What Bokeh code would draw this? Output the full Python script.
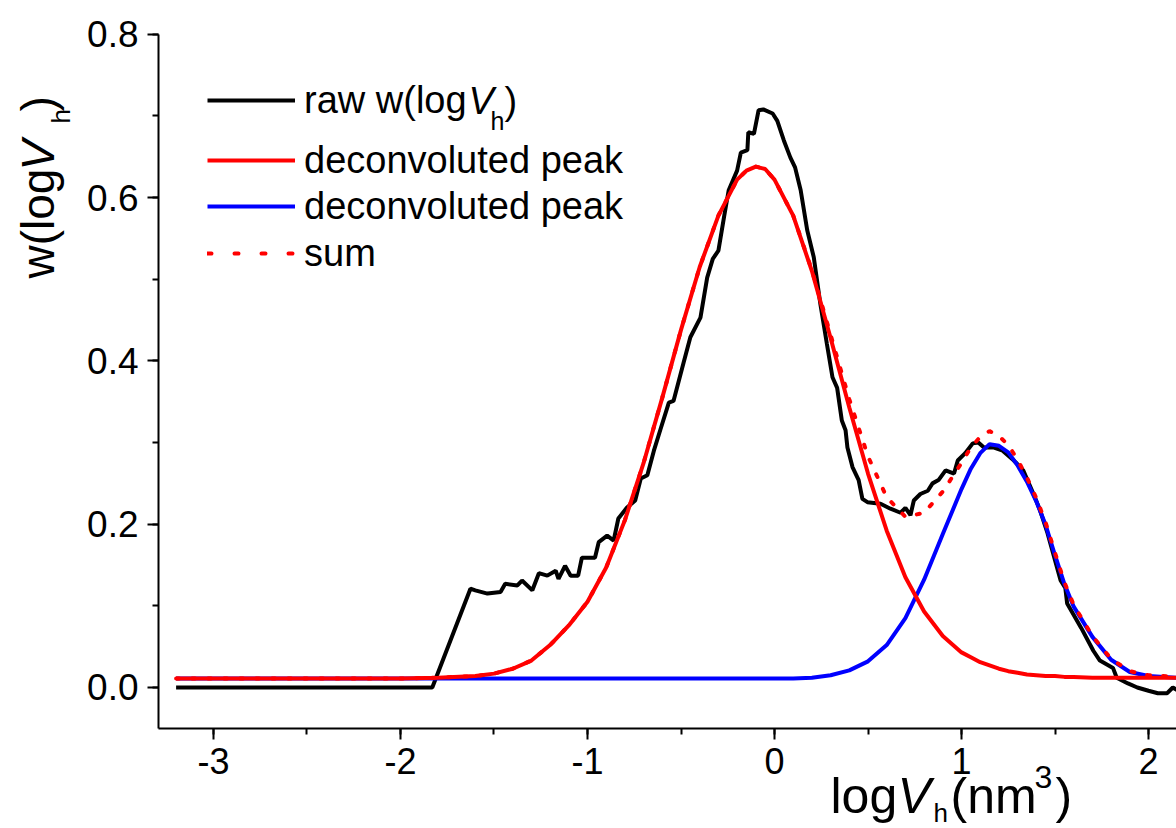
import math
from bokeh.plotting import figure
from bokeh.models import (Range1d, SingleIntervalTicker, Label, Legend, LegendItem,
                          PrintfTickFormatter)
from bokeh.core.properties import value
from bokeh.embed import file_html
from bokeh.resources import INLINE

# ---------------- data ----------------
raw_x = [-3.2, -1.83, -1.626, -1.6, -1.535, -1.465, -1.44, -1.375, -1.35, -1.295,
         -1.26, -1.215, -1.17, -1.155, -1.12, -1.09, -1.05, -1.03, -0.96, -0.94,
         -0.895, -0.86, -0.835, -0.79, -0.745, -0.715, -0.68, -0.645, -0.61, -0.565,
         -0.54, -0.487, -0.45, -0.396, -0.36, -0.33, -0.3, -0.27, -0.245, -0.2,
         -0.18, -0.145, -0.14, -0.11, -0.085, -0.06, -0.01, 0.015, 0.05, 0.085,
         0.11, 0.14, 0.175, 0.21, 0.245, 0.28, 0.31, 0.335, 0.36, 0.38,
         0.39, 0.417, 0.45, 0.47, 0.497, 0.567, 0.62, 0.674, 0.7, 0.727,
         0.745, 0.78, 0.82, 0.845, 0.877, 0.915, 0.96, 0.98, 1.02, 1.06,
         1.09, 1.12, 1.17, 1.22, 1.28, 1.33, 1.385, 1.42, 1.46, 1.49,
         1.53, 1.555, 1.565, 1.64, 1.705, 1.74, 1.81, 1.83, 1.89, 1.94,
         2.0, 2.05, 2.1, 2.13, 2.2]
raw_w = [0.0, 0.0, 0.121, 0.119, 0.115, 0.117, 0.127, 0.125, 0.131, 0.119,
         0.140, 0.137, 0.143, 0.133, 0.149, 0.137, 0.137, 0.159, 0.159, 0.178,
         0.186, 0.180, 0.207, 0.220, 0.229, 0.256, 0.260, 0.290, 0.316, 0.349,
         0.351, 0.397, 0.429, 0.453, 0.502, 0.525, 0.535, 0.576, 0.609, 0.633,
         0.655, 0.658, 0.680, 0.678, 0.707, 0.708, 0.703, 0.694, 0.670, 0.649,
         0.637, 0.609, 0.560, 0.527, 0.470, 0.421, 0.380, 0.367, 0.327, 0.315,
         0.294, 0.270, 0.254, 0.231, 0.227, 0.225, 0.219, 0.214, 0.220, 0.211,
         0.229, 0.237, 0.241, 0.250, 0.254, 0.266, 0.262, 0.278, 0.287, 0.299,
         0.300, 0.294, 0.294, 0.290, 0.278, 0.266, 0.237, 0.217, 0.189, 0.164,
         0.131, 0.122, 0.103, 0.073, 0.045, 0.033, 0.024, 0.012, 0.005, 0.000,
         -0.004, -0.007, -0.007, 0.000, -0.010]

fit_x = [-3.2, -2.0, -1.8, -1.6, -1.5, -1.4, -1.3, -1.2, -1.1, -1.0,
         -0.9, -0.8, -0.7, -0.6, -0.5, -0.4, -0.3, -0.2, -0.15, -0.1,
         -0.05, 0.0, 0.1, 0.2, 0.3, 0.4, 0.5, 0.6, 0.7, 0.8,
         0.9, 1.0, 1.05, 1.1, 1.15, 1.2, 1.25, 1.3, 1.35, 1.4,
         1.45, 1.5, 1.55, 1.6, 1.7, 1.8, 1.9, 2.0, 2.15]
red_peak = [0.011, 0.011, 0.012, 0.014, 0.017, 0.023, 0.033, 0.052, 0.076, 0.105,
            0.147, 0.205, 0.275, 0.355, 0.438, 0.515, 0.578, 0.622, 0.633, 0.638,
            0.635, 0.622, 0.578, 0.510, 0.428, 0.343, 0.262, 0.192, 0.135, 0.093,
            0.063, 0.043, 0.037, 0.031, 0.027, 0.023, 0.020, 0.018, 0.016, 0.015,
            0.014, 0.014, 0.013, 0.013, 0.012, 0.012, 0.012, 0.012, 0.012]
blue_peak = [0.011, 0.011, 0.011, 0.011, 0.011, 0.011, 0.011, 0.011, 0.011, 0.011,
             0.011, 0.011, 0.011, 0.011, 0.011, 0.011, 0.011, 0.011, 0.011, 0.011,
             0.011, 0.011, 0.011, 0.012, 0.015, 0.021, 0.032, 0.052, 0.085, 0.132,
             0.188, 0.243, 0.268, 0.287, 0.298, 0.296, 0.288, 0.272, 0.252, 0.228,
             0.199, 0.162, 0.127, 0.099, 0.062, 0.034, 0.019, 0.014, 0.012]
fit_sum = [0.011, 0.011, 0.012, 0.014, 0.017, 0.023, 0.033, 0.052, 0.076, 0.105,
           0.147, 0.205, 0.275, 0.355, 0.438, 0.515, 0.578, 0.622, 0.633, 0.638,
           0.635, 0.622, 0.578, 0.511, 0.432, 0.353, 0.283, 0.233, 0.209, 0.214,
           0.240, 0.275, 0.294, 0.307, 0.314, 0.308, 0.297, 0.279, 0.257, 0.232,
           0.202, 0.165, 0.129, 0.101, 0.063, 0.035, 0.020, 0.015, 0.013]

FONT = "Liberation Sans"

# ---------------- layout ----------------
W, H = 1176, 828
X_LO, X_HI = -3.294, 2.1497      # plot-area extent along x
Y_LO, Y_HI = -0.0502, 0.8001     # plot-area extent along y

# the frame fills the whole canvas; axes are pinned with fixed_location
p = figure(width=W, height=H, output_backend="svg", toolbar_location=None,
           x_range=Range1d(-4.139, 2.1497), y_range=Range1d(-0.1727, 0.8414),
           min_border=0)
p.outline_line_color = None
p.grid.visible = False
p.background_fill_color = "white"
p.border_fill_color = "white"

for ax, ticker, fmt in ((p.xaxis[0], SingleIntervalTicker(interval=1, num_minor_ticks=2), "%d"),
                        (p.yaxis[0], SingleIntervalTicker(interval=0.2, num_minor_ticks=2), "%.1f")):
    ax.ticker = ticker
    ax.formatter = PrintfTickFormatter(format=fmt)
    ax.axis_line_width = 2
    ax.axis_line_color = "black"
    ax.major_tick_line_width = 2
    ax.minor_tick_line_width = 2
    ax.major_tick_line_color = "black"
    ax.minor_tick_line_color = "black"
    ax.major_tick_in = 0
    ax.major_tick_out = 11
    ax.minor_tick_in = 0
    ax.minor_tick_out = 6
    ax.major_label_text_font = FONT
    ax.major_label_text_font_size = "36px"
    ax.major_label_text_color = "black"
p.xaxis[0].fixed_location = Y_LO
p.xaxis[0].bounds = (X_LO, X_HI)
p.xaxis[0].major_label_standoff = 9
p.yaxis[0].fixed_location = X_LO
p.yaxis[0].bounds = (Y_LO, Y_HI)
p.yaxis[0].major_label_standoff = 9
p.yaxis[0].major_label_text_font_size = "37px"

r_raw = p.line(raw_x, raw_w, line_color="black", line_width=4)
r_blue = p.line(fit_x, blue_peak, line_color="#0000ff", line_width=4)
r_red = p.line(fit_x, red_peak, line_color="#ff0000", line_width=4)
r_sum = p.line(fit_x, fit_sum, line_color="#ff0000", line_width=4,
               line_dash="3 13", line_cap="round")
# single-point renderer that only provides the legend key of "sum"
r_sum_key = p.line(fit_x[:1], fit_sum[:1], line_color="#ff0000", line_width=4,
                   line_dash="4 23", line_cap="round")


def row_legend(label, renderer, center_y):
    lg = Legend(items=[LegendItem(label=value(label), renderers=[renderer])],
                location=(207, H - (center_y + 25)),
                glyph_width=88, glyph_height=50, label_height=50,
                label_standoff=9, padding=0, margin=0, spacing=0,
                border_line_color=None, background_fill_alpha=0,
                label_text_font=FONT, label_text_font_size="38px",
                label_text_color="black")
    p.add_layout(lg)


row_legend("raw w(log", r_raw, 100)
row_legend("deconvoluted peak", r_red, 160)
row_legend("deconvoluted peak", r_blue, 206)
row_legend("sum", r_sum_key, 253)


def lab(text, px, base, size, angle=0.0, italic=False):
    """text whose alphabetic baseline is at `base` (page px); anchor is the
    middle line, about 0.33 em above the baseline."""
    mid = 0.33 * size
    if angle == 0.0:
        sx, sy = px, H - (base - mid)
    else:  # rotated 90 deg ccw: baseline is a vertical line at x = base
        sx, sy = base - mid, H - px
    p.add_layout(Label(x=sx, y=sy, x_units="screen", y_units="screen",
                       text=text, angle=angle, text_font=FONT,
                       text_font_size=f"{size}px",
                       text_font_style="italic" if italic else "normal",
                       text_align="left", text_baseline="middle",
                       text_color="black"))


# rest of the first legend label
lab("V", 468, 113, 38, italic=True)
lab("h", 490, 129, 25)
lab(")", 504, 113, 38)

# y axis title (rotated), px = start position along the page y
A = math.pi / 2
lab("w(log", 278, 53, 46, angle=A)
lab("V", 170, 53, 46, angle=A, italic=True)
lab("h", 123, 69, 26, angle=A)
lab(")", 111, 53, 46, angle=A)

# x axis title
lab("log", 830, 812, 50)
lab("V", 897, 812, 50, italic=True)
lab("h", 933, 821, 26)
lab("(nm", 950, 812, 50)
lab("3", 1034, 787, 32)
lab(")", 1055, 812, 50)

open("out.html", "w").write(file_html(p, INLINE))
